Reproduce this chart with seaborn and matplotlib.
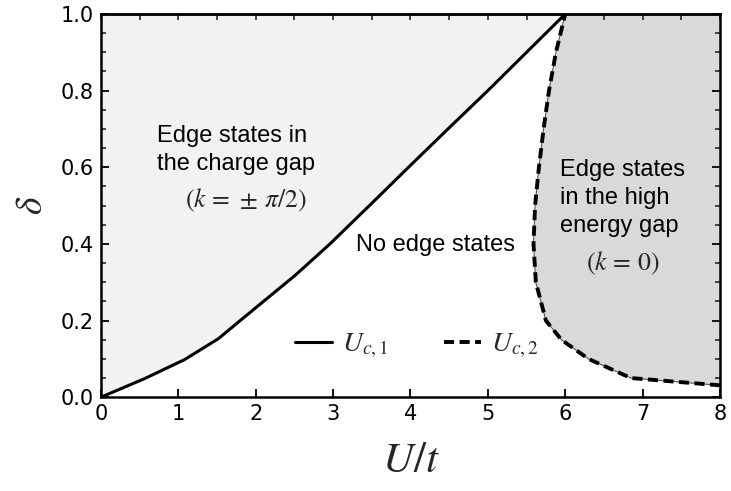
import numpy as np
import pandas as pd
import seaborn as sns
import matplotlib
matplotlib.use("Agg")
import matplotlib.pyplot as plt
from matplotlib.ticker import MultipleLocator

# Critical line U_c1 (solid)
uc1_U = [0.0, 0.57, 1.08, 1.52, 1.86, 2.51, 2.96, 3.5, 4.0, 4.5, 5.0, 5.5, 6.0]
uc1_d = [0.0, 0.049, 0.098, 0.153, 0.21, 0.318, 0.40, 0.506, 0.605, 0.703, 0.80, 0.90, 1.0]

# Critical line U_c2 (dashed)
uc2_U = [8.0, 6.85, 6.3, 5.95, 5.75, 5.62, 5.59, 5.61, 5.66, 5.72, 5.79, 5.88, 6.0]
uc2_d = [0.031, 0.05, 0.1, 0.15, 0.2, 0.3, 0.4, 0.5, 0.6, 0.7, 0.8, 0.9, 1.0]

xticks = [0, 1, 2, 3, 4, 5, 6, 7, 8]
yticks = [0.0, 0.2, 0.4, 0.6, 0.8, 1.0]

sns.set_theme(style="ticks")
plt.rcParams["font.family"] = ["DejaVu Sans"]
plt.rcParams["mathtext.fontset"] = "stix"

df1 = pd.DataFrame({"U": uc1_U, "d": uc1_d, "curve": "Uc1"})
df2 = pd.DataFrame({"U": uc2_U, "d": uc2_d, "curve": "Uc2"})

fig = plt.figure(figsize=(7.31, 4.91), dpi=100)
ax = fig.add_axes([0.138, 0.191, 0.847, 0.7805])

# shaded regions
ax.fill_betweenx(df1["d"], 0, df1["U"], color="#f2f2f2", lw=0, zorder=0)
ax.fill_betweenx(df2["d"], df2["U"], 8, color="#d9d9d9", lw=0, zorder=0)

sns.lineplot(data=df1, x="U", y="d", sort=False, estimator=None, ax=ax,
             color="black", lw=2.2, label=r"$U_{c,1}$", zorder=3)
sns.lineplot(data=df2, x="U", y="d", sort=False, estimator=None, ax=ax,
             color="#555555", lw=0.8, legend=False, zorder=3)
sns.lineplot(data=df2, x="U", y="d", sort=False, estimator=None, ax=ax,
             color="black", lw=2.8, label=r"$U_{c,2}$", zorder=4,
             dashes=False)
ax.lines[-1].set_dashes([2.6, 1.4])

ax.set_xlim(0, 8)
ax.set_ylim(0, 1)
ax.set_xticks(xticks)
ax.set_yticks(yticks)
ax.set_yticklabels([f"{v:.1f}" for v in yticks])
ax.yaxis.set_minor_locator(MultipleLocator(0.05))
ax.tick_params(axis="both", which="major", direction="in", length=6, width=1.3,
               labelsize=15, top=False, right=True, colors="black", pad=5)
ax.tick_params(axis="y", which="minor", direction="in", length=3.5, width=1.2,
               right=True, left=True)
for s in ax.spines.values():
    s.set_linewidth(1.8)
    s.set_color("black")

top = ax.secondary_xaxis("top")
top.set_xticks(np.arange(0, 8.01, 0.5))
top.tick_params(direction="in", length=4, width=1.2, labelsize=0)
top.set_xticklabels([])
top.spines["top"].set_linewidth(1.8)

ax.set_xlabel(r"$U/t$", fontsize=31, labelpad=11)
ax.set_ylabel(r"$\delta$", fontsize=27, labelpad=8)

tfont = dict(family="Liberation Sans", fontsize=17, color="black")
ax.text(0.72, 0.666, "Edge states in", ha="left", va="baseline", **tfont)
ax.text(0.72, 0.593, "the charge gap", ha="left", va="baseline", **tfont)
ax.text(1.87, 0.514, r"$\left(k\,=\,\pm\,\pi/2\right)$", ha="center",
        va="center", fontsize=18.5)
ax.text(3.29, 0.381, "No edge states", ha="left", va="baseline", **tfont)
ax.text(5.93, 0.577, "Edge states", ha="left", va="baseline", **tfont)
ax.text(5.93, 0.504, "in the high", ha="left", va="baseline", **tfont)
ax.text(5.93, 0.431, "energy gap", ha="left", va="baseline", **tfont)
ax.text(6.74, 0.35, r"$\left(k\,=\,0\right)$", ha="center", va="center",
        fontsize=18.5)

ax.legend(loc="center", bbox_to_anchor=(0.51, 0.137), ncol=2, frameon=False,
          fontsize=20, handlelength=1.35, handletextpad=0.35, columnspacing=2.0)

fig.savefig("out.png", dpi=100)
